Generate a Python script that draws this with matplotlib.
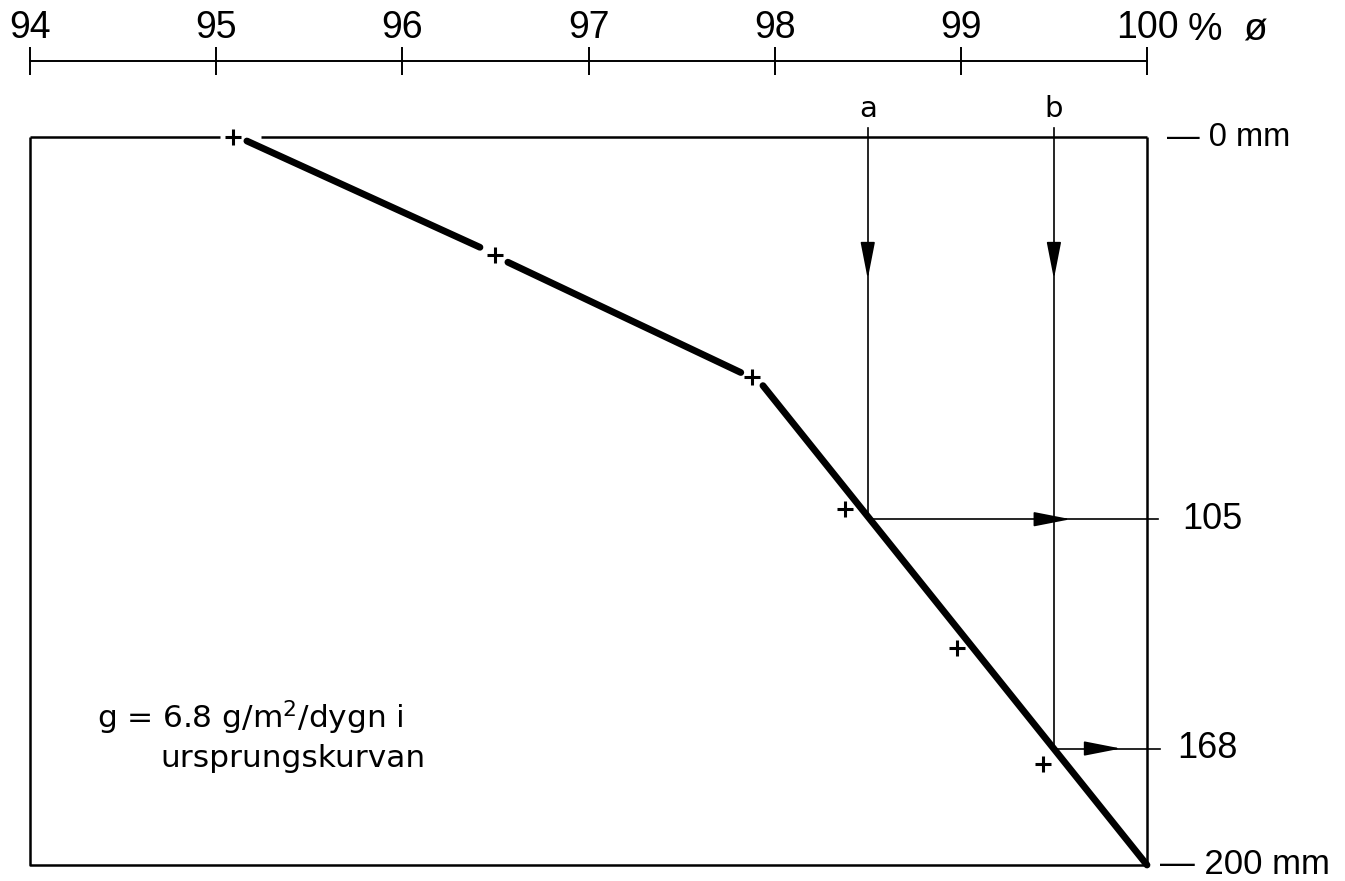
#!/usr/bin/env python3
import matplotlib
matplotlib.use("Agg")
import matplotlib.pyplot as plt

# top scale (% ø)
scale_ticks = [94, 95, 96, 97, 98, 99, 100]

# measured points (+) : ø in %, depth in mm
obs_phi = [95.09, 96.50, 97.88, 98.38, 98.98, 99.44]
obs_depth = [0.0, 32.5, 65.8, 102.2, 140.5, 172.2]

# drawn curve, broken around the points
seg1_phi, seg1_depth = [95.165, 96.417], [1.1, 30.3]
seg2_phi, seg2_depth = [96.567, 97.818], [34.4, 64.7]
seg3_phi, seg3_depth = [97.937, 100.0], [68.3, 200.0]

# reading lines a and b
a_phi, a_depth = 98.5, 105
b_phi, b_depth = 99.5, 168
depth_labels = ["— 0 mm", "105", "168", "— 200 mm"]
depth_values = [0, 105, 168, 200]

NUM_FONT = ["Liberation Sans", "DejaVu Sans"]
TXT_FONT = ["DejaVu Sans"]

fig = plt.figure(figsize=(13.45, 8.81), dpi=100)
W, H = 1345, 881
left, right = 30 / W, 1147 / W
top, bottom = 1 - 137 / H, 1 - 865 / H
ax = fig.add_axes([left, bottom, right - left, top - bottom])
ax.set_xlim(94, 100)
ax.set_ylim(200, 0)
ax.axis("off")

# frame, with a gap in the top edge round the first point
kw = dict(color="black", lw=1.8, clip_on=False, solid_capstyle="butt")
ax.plot([94, 94, 100, 100], [0, 200, 200, 0], **kw)
ax.plot([94, 95.02], [0, 0], **kw)
ax.plot([95.24, 100], [0, 0], **kw)

# curve
for px, dy in [(seg1_phi, seg1_depth), (seg2_phi, seg2_depth), (seg3_phi, seg3_depth)]:
    ax.plot(px, dy, color="black", lw=4.9, solid_capstyle="round", clip_on=False)

ax.plot(obs_phi, obs_depth, linestyle="none", marker="+", markersize=11,
        markeredgewidth=2.2, color="black", clip_on=False)

# reading lines
thin = dict(color="black", lw=1.2, clip_on=False)
ax.plot([a_phi, a_phi], [-2.5, a_depth], **thin)
ax.plot([b_phi, b_phi], [-2.5, b_depth], **thin)
ax.plot([a_phi, 100.06], [a_depth, a_depth], **thin)
ax.plot([b_phi, 100.07], [b_depth, b_depth], **thin)

head = dict(arrowstyle="-|>,head_length=2.3,head_width=0.45", mutation_scale=10,
            color="black", lw=1.2, shrinkA=0, shrinkB=0)
for xy, off in [((a_phi, 39), (0, 25)), ((b_phi, 39), (0, 25)),
                ((99.59, a_depth), (-25, 0)), ((99.86, b_depth), (-25, 0))]:
    ax.annotate("", xy=xy, xytext=off, textcoords="offset points",
                arrowprops=head, annotation_clip=False)

ax.text(a_phi, -5.5, "a", ha="center", va="baseline", fontsize=21, family=TXT_FONT)
ax.text(b_phi, -5.5, "b", ha="center", va="baseline", fontsize=21, family=TXT_FONT)

# depth labels on the right
label_x = [100.105, 100.19, 100.165, 100.07]
label_fs = [23.5, 26, 26, 25]
for lx, lv, lt, fs in zip(label_x, depth_values, depth_labels, label_fs):
    ax.text(lx, lv, lt, ha="left", va="center", fontsize=fs, family=NUM_FONT)

ax.text(94.36, 162.4, "g = 6.8 g/m$^{2}$/dygn i", ha="left", va="baseline",
        fontsize=22.5, family=TXT_FONT)
ax.text(94.70, 173.0, "ursprungskurvan", ha="left", va="baseline",
        fontsize=22.5, family=TXT_FONT)

# top scale
axt = fig.add_axes([left, 1 - 61 / H, right - left, 0.0001])
axt.set_xlim(94, 100)
for s in ["left", "right", "bottom"]:
    axt.spines[s].set_visible(False)
axt.spines["top"].set_linewidth(1.4)
axt.set_yticks([])
axt.xaxis.tick_top()
axt.set_xticks(scale_ticks)
axt.set_xticklabels([str(t) for t in scale_ticks], family=NUM_FONT, fontsize=27)
axt.tick_params(axis="x", direction="inout", length=20, width=1.4, pad=1)
axt.patch.set_visible(False)
fig.text(1188 / W, 1 - 40 / H, "%  ø", ha="left", va="baseline", fontsize=28,
         family=NUM_FONT)

fig.savefig("out.png", dpi=100)
